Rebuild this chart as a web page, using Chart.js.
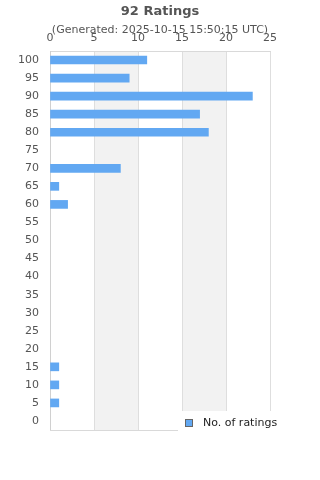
<!DOCTYPE html>
<html>
<head>
<meta charset="utf-8">
<script src="https://cdn.jsdelivr.net/npm/chart.js@4/dist/chart.umd.min.js"></script>
<style>
html,body{margin:0;padding:0;background:#fff;}
#wrap{width:320px;height:480px;position:relative;}
</style>
</head>
<body>
<div id="wrap"><canvas id="c" width="320" height="480"></canvas></div>
<script>
const titleText = "92 Ratings";
const subtitleText = "(Generated: 2025-10-15 15:50:15 UTC)";
const categories = ["100","95","90","85","80","75","70","65","60","55","50","45","40","35","30","25","20","15","10","5","0"];
const ratingCounts = [11,9,23,17,18,0,8,1,2,0,0,0,0,0,0,0,0,1,1,1,0];
const seriesLabel = "No. of ratings";
const xTicks = [0,5,10,15,20,25];
const shadedBands = [[5,10],[15,20]];

const FONT = "'DejaVu Sans', sans-serif";
const BAR = "#62a8f2";

const decor = {
  id: 'decor',
  beforeDraw(chart) {
    const ctx = chart.ctx, a = chart.chartArea, x = chart.scales.x;
    ctx.save();
    ctx.fillStyle = '#f2f2f2';
    shadedBands.forEach(([s, e]) => {
      const x0 = x.getPixelForValue(s), x1 = x.getPixelForValue(e);
      ctx.fillRect(x0, a.top, x1 - x0, a.bottom - a.top);
    });
    ctx.restore();
  },
  afterDraw(chart) {
    const ctx = chart.ctx, a = chart.chartArea;
    ctx.save();
    ctx.strokeStyle = '#d9d9d9';
    ctx.lineWidth = 1;
    ctx.beginPath();
    ctx.moveTo(a.left, Math.round(a.bottom) + 0.5);
    ctx.lineTo(a.right, Math.round(a.bottom) + 0.5);
    ctx.stroke();
    ctx.fillStyle = '#555';
    ctx.textAlign = 'center';
    ctx.textBaseline = 'middle';
    ctx.font = "bold 13px " + FONT;
    ctx.fillText(titleText, 160, 11.5);
    ctx.font = "11px " + FONT;
    ctx.fillText(subtitleText, 160, 30.5);
    ctx.fillStyle = '#fff';
    ctx.fillRect(178, 411, 142, 22);
    ctx.fillStyle = BAR;
    ctx.fillRect(185.5, 419.5, 7, 7);
    ctx.strokeStyle = '#666';
    ctx.strokeRect(185.5, 419.5, 7, 7);
    ctx.fillStyle = '#222';
    ctx.textAlign = 'left';
    ctx.font = "11px " + FONT;
    ctx.fillText(chart.data.datasets[0].label, 203, 423);
    ctx.restore();
  }
};

new Chart(document.getElementById('c'), {
  type: 'bar',
  data: {
    labels: categories,
    datasets: [{
      label: seriesLabel,
      data: ratingCounts,
      backgroundColor: (c) => (c.raw ? BAR : 'rgba(0,0,0,0)'),
      borderWidth: 0,
      barThickness: 8
    }]
  },
  options: {
    indexAxis: 'y',
    responsive: false,
    animation: false,
    layout: { padding: { top: 0, right: 50, bottom: 50, left: 0 } },
    plugins: {
      legend: { display: false },
      title: { display: false },
      tooltip: { enabled: false }
    },
    scales: {
      x: {
        position: 'top',
        min: 0, max: 25,
        afterBuildTicks(s) { s.ticks = xTicks.map(v => ({ value: v })); },
        afterFit(s) { s.height = 51; },
        ticks: { color: '#555', font: { family: FONT, size: 11 }, padding: 6 },
        grid: { color: '#dedede', drawTicks: false, lineWidth: 1 },
        border: { display: true, color: '#d9d9d9' }
      },
      y: {
        afterFit(s) { s.width = 50; },
        ticks: { color: '#555', font: { family: FONT, size: 11 }, padding: 11 },
        grid: { display: false, drawTicks: false },
        border: { display: true, color: '#d0d0d0' }
      }
    }
  },
  plugins: [decor]
});
</script>
</body>
</html>
